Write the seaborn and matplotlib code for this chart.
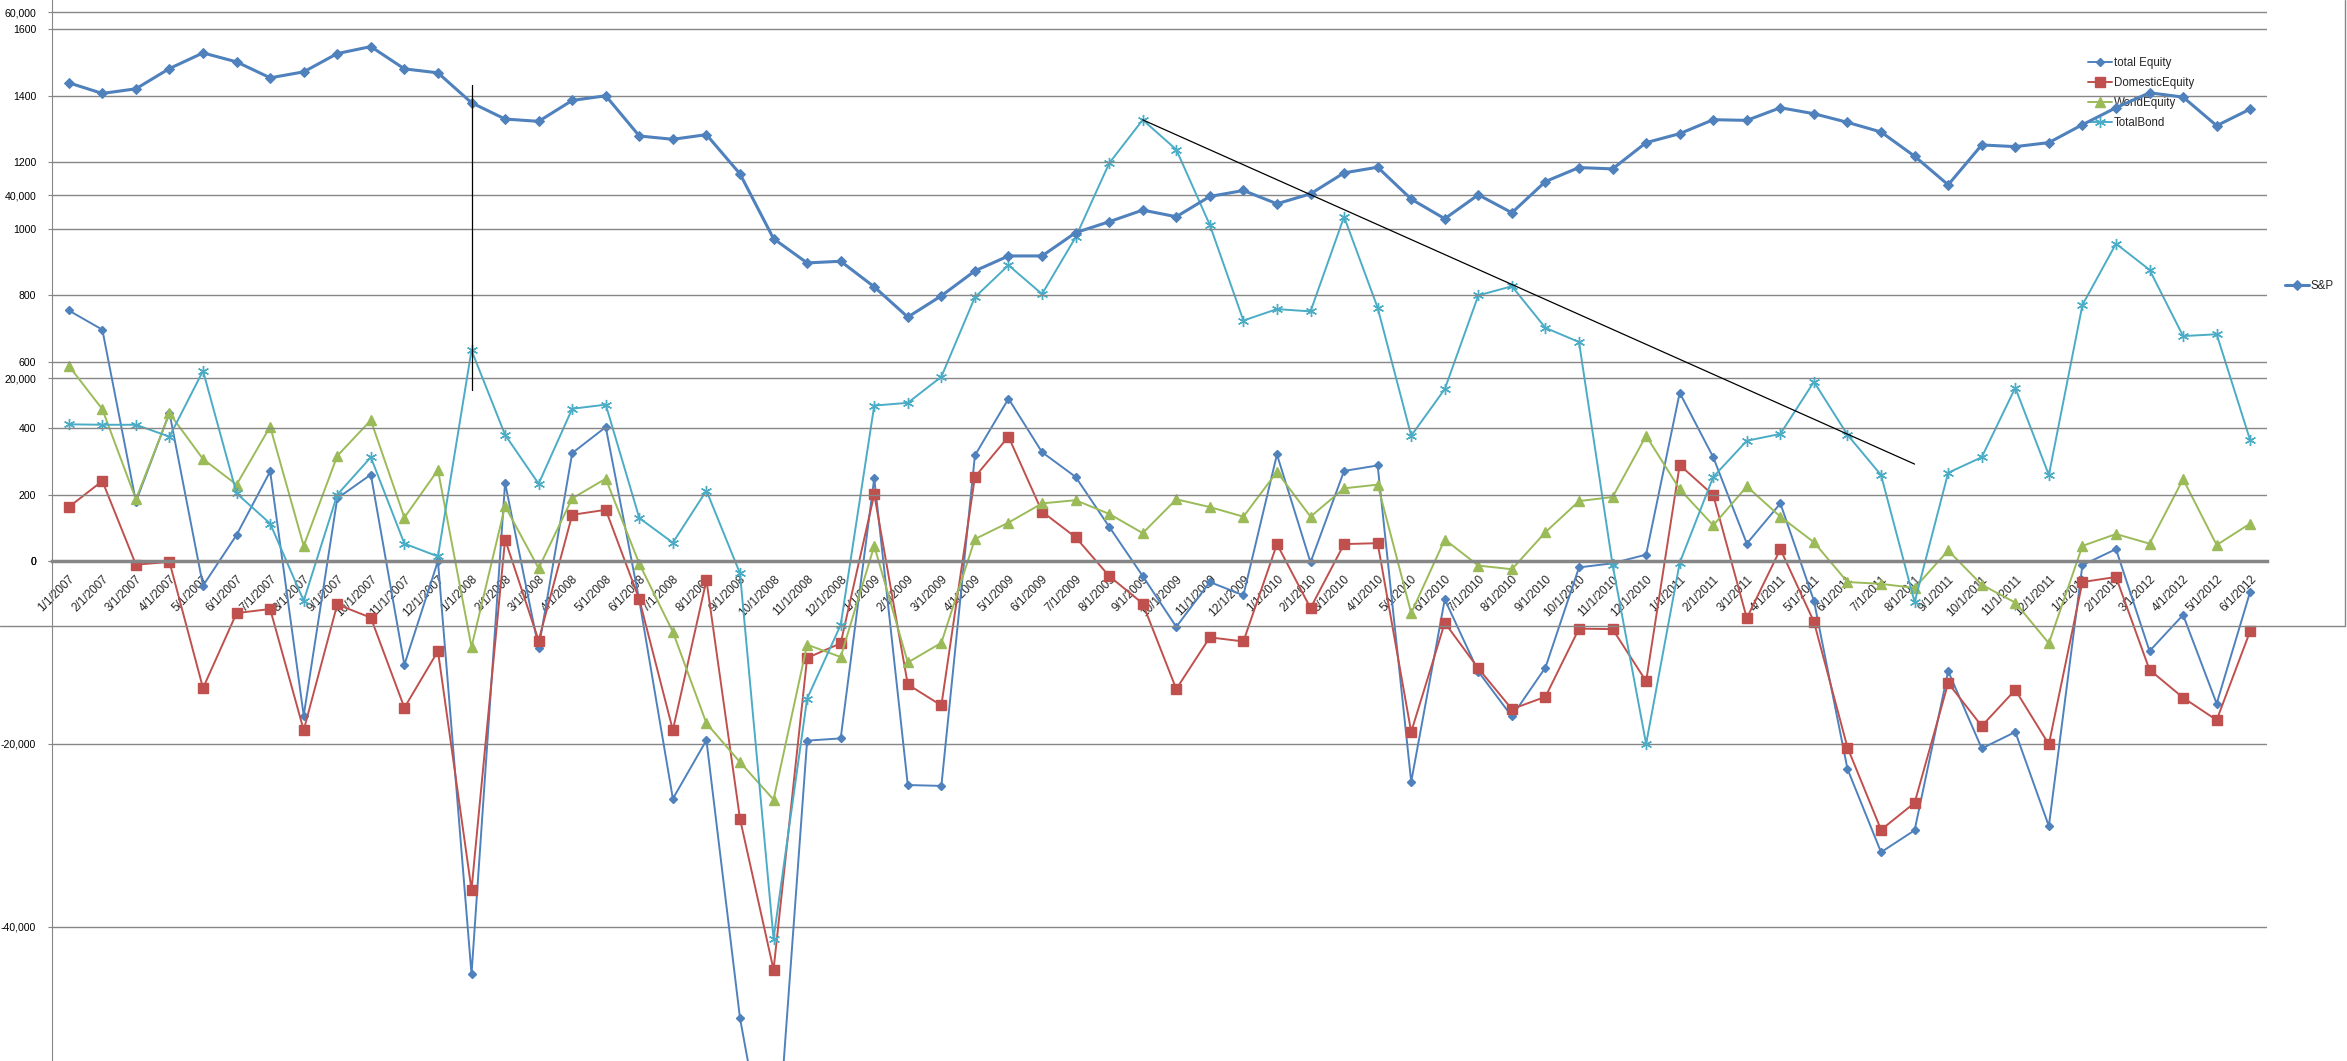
import numpy as np
import pandas as pd
import seaborn as sns
from matplotlib import pyplot as plt
from matplotlib.lines import Line2D
from matplotlib.ticker import FuncFormatter

sns.set_style('white')
plt.rcParams['font.family'] = ['Liberation Sans', 'DejaVu Sans']

# Month labels, 1/1/2007 .. 6/1/2012
months = [f"{d.month}/1/{d.year}" for d in pd.date_range("2007-01-01", "2012-06-01", freq="MS")]

# Fund flows (left axis)
total_equity = [27400, 25300, 6500, 16200, -2700, 2850, 9800, -16900, 6850, 9450,
                -11350, 0, -45200, 8550, -9550, 11800, 14650, -4300, -26000, -19600,
                -50000, -70000, -19650, -19400, 9050, -24500, -24600, 11550, 17750, 11900,
                9200, 3750, -1650, -7200, -2300, -3750, 11650, -150, 9850, 10450,
                -24150, -4200, -12100, -17000, -11650, -700, -250, 700, 18400, 11350,
                1900, 6300, -4350, -22750, -31850, -29450, -12050, -20500, -18700, -29000,
                -450, 1300, -9850, -5900, -15600, -3350]
domestic_equity = [5900, 8750, -400, -100, -13900, -5700, -5250, -18500, -4750, -6200,
                   -16050, -9850, -35950, 2350, -8700, 5050, 5600, -4200, -18500, -2100,
                   -28200, -44700, -10600, -9000, 7300, -13500, -15800, 9200, 13600, 5400,
                   2600, -1650, -4650, -14000, -8350, -8800, 1850, -5150, 1850, 1950,
                   -18700, -6750, -11750, -16200, -14850, -7400, -7450, -13150, 10500, 7200,
                   -6250, 1300, -6650, -20400, -29400, -26450, -13350, -18050, -14100, -20050,
                   -2300, -1750, -11900, -14950, -17400, -7650]
world_equity = [21350, 16600, 6750, 16150, 11150, 8350, 14700, 1650, 11500, 15400,
                4750, 9950, -9400, 6000, -800, 6850, 9000, -300, -7750, -17750,
                -22000, -26100, -9150, -10500, 1650, -11100, -8950, 2400, 4200, 6300,
                6650, 5150, 3050, 6750, 5900, 4850, 9750, 4850, 7950, 8350,
                -5700, 2350, -500, -900, 3150, 6550, 7000, 13700, 7850, 3900,
                8150, 4850, 2050, -2300, -2500, -2950, 1150, -2600, -4550, -9000,
                1650, 2950, 1900, 8950, 1750, 4100]
total_bond = [14950, 14900, 14900, 13600, 20800, 7400, 4100, -4350, 7250, 11350,
              1900, 500, 23050, 13800, 8450, 16650, 17100, 4700, 2000, 7700,
              -1350, -41300, -15050, -7000, 17000, 17300, 20150, 28850, 32350, 29200,
              35400, 43500, 48250, 45000, 36750, 26300, 27550, 27300, 37650, 27700,
              13700, 18800, 29050, 30050, 25500, 23950, -400, -20000, -200, 9200,
              13150, 13900, 19600, 13800, 9400, -4500, 9650, 11350, 18950, 9400,
              28000, 34700, 31850, 24600, 24800, 13200]

# S&P 500 (overlaid chart)
sp500 = [1439, 1407, 1421, 1482, 1529, 1502, 1454, 1472, 1527, 1548,
         1481, 1469, 1379, 1330, 1323, 1386, 1400, 1279, 1269, 1283,
         1165, 970, 897, 902, 825, 734, 798, 873, 918, 918,
         988, 1021, 1056, 1036, 1097, 1115, 1075, 1105, 1168, 1185,
         1089, 1030, 1102, 1048, 1142, 1184, 1180, 1259, 1286, 1328,
         1326, 1364, 1346, 1320, 1291, 1218, 1132, 1252, 1247, 1259,
         1313, 1364, 1409, 1396, 1310, 1360]

# hand drawn lines on the chart (month index, flow value)
vline_pts = ([12, 12], [52060, 18700])
trend_pts = ([32, 55], [48250, 10600])

W, H = 2347, 1061
GRID = '#868686'
fig = plt.figure(figsize=(W / 100, H / 100), dpi=100)
ax1 = fig.add_axes([52 / W, 0, (2267 - 52) / W, 1])
ax2 = ax1.twinx()

x = np.arange(len(months))
flows = [
    ("total Equity", total_equity, '#4F81BD', 'D', 4.5),
    ("DomesticEquity", domestic_equity, '#C0504D', 's', 6.5),
    ("WorldEquity", world_equity, '#9BBB59', '^', 7),
    ("TotalBond", total_bond, '#4BACC6', (6, 2, 0), 8),
]
for name, vals, col, mk, ms in flows:
    sns.lineplot(x=x, y=vals, ax=ax1, color=col, marker=mk, markersize=ms,
                 markeredgecolor=col, markeredgewidth=1, linewidth=1.4, label=name)

sns.lineplot(x=x, y=sp500, ax=ax2, color='#4F81BD', marker='D', markersize=5.5,
             markeredgecolor='#4F81BD', linewidth=2.2, label="S&P")

ax2.plot(*vline_pts, color='black', lw=0.9, transform=ax1.transData)
ax2.plot(*trend_pts, color='black', lw=0.9, transform=ax1.transData)

# axes scales
ax1.set_xlim(-0.5, len(months) - 0.5)
ax1.set_ylim(-54686, 61358)
ax2.set_ylim(-1504.6, 1688.2)

ax1.set_yticks(range(-40000, 60001, 20000))
ax1.yaxis.set_major_formatter(FuncFormatter(lambda v, p: f"{int(v):,}"))
ax2.set_yticks(range(0, 1601, 200))
ax2.yaxis.set_major_formatter(FuncFormatter(lambda v, p: f"{int(v)}"))
ax2.yaxis.tick_left()

for a in (ax1, ax2):
    a.grid(axis='y', color=GRID, lw=1)
    a.grid(axis='x', visible=False)
    a.tick_params(axis='y', length=3, color=GRID, pad=8.5, labelsize=7.6, labelcolor='black')
    a.set_xlabel('')
    a.set_ylabel('')
    for s in a.spines.values():
        s.set_visible(False)

ax1.spines['left'].set_visible(True)
ax1.spines['left'].set_color(GRID)
ax1.spines['bottom'].set_visible(True)
ax1.spines['bottom'].set_position(('data', 0))
ax1.spines['bottom'].set_color(GRID)
ax1.spines['bottom'].set_linewidth(2.5)

ax1.set_xticks(x)
ax1.set_xticklabels(months, rotation=45, ha='right', va='top', rotation_mode='anchor', fontsize=8.5)
ax1.set_xticks(np.arange(-0.5, len(months), 1), minor=True)
ax1.tick_params(axis='x', which='major', length=0, pad=9)
ax1.tick_params(axis='x', which='minor', length=4, color=GRID, direction='out', width=1)

# legends
h1, l1 = ax1.get_legend_handles_labels()
ax1.legend(h1, l1, loc='upper left', bbox_to_anchor=(2088 / W, 1 - 57 / H),
           bbox_transform=fig.transFigure, frameon=False, fontsize=8.3,
           handlelength=2.1, handletextpad=0.15, labelspacing=0.7,
           borderpad=0, borderaxespad=0)
h2, l2 = ax2.get_legend_handles_labels()
ax2.legend(h2, l2, loc='center left', bbox_to_anchor=(2285 / W, 1 - 286 / H),
           bbox_transform=fig.transFigure, frameon=False, fontsize=8.3,
           handlelength=2.1, handletextpad=0.15, borderpad=0, borderaxespad=0)

# border of the overlaid S&P chart
fig.add_artist(Line2D([0, 2345 / W], [1 - 626 / H] * 2, transform=fig.transFigure, color=GRID, lw=1))
fig.add_artist(Line2D([2345 / W] * 2, [1, 1 - 626 / H], transform=fig.transFigure, color=GRID, lw=1))

fig.savefig('out.png', dpi=100)
